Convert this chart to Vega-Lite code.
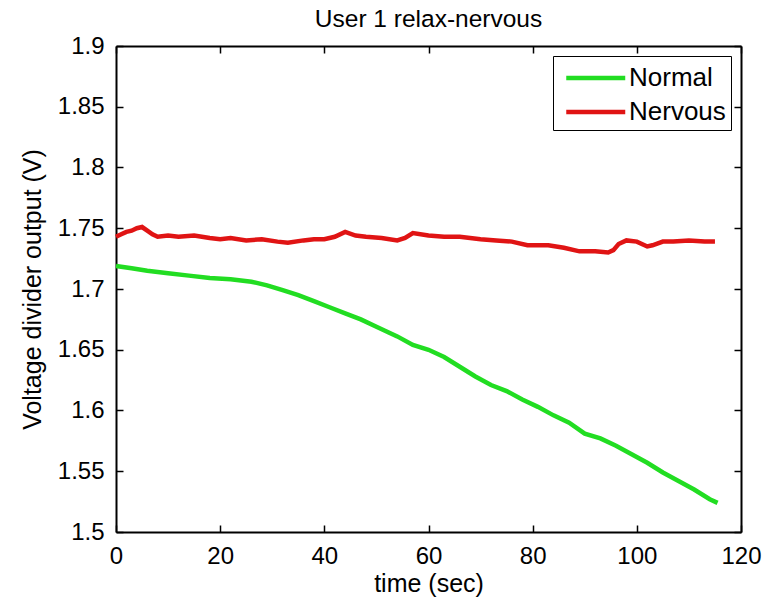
{
  "$schema": "https://vega.github.io/schema/vega-lite/v6.json",
  "width": 625,
  "height": 486,
  "autosize": {"type": "none"},
  "padding": {"left": 116, "top": 46, "right": 26, "bottom": 70},
  "background": "white",
  "config": {
    "font": "Liberation Sans",
    "view": {"stroke": null},
    "axis": {"grid": false, "domainColor": "black", "domainWidth": 2, "tickColor": "black", "tickWidth": 1.5, "labelColor": "black", "titleColor": "black", "labelFontSize": 24, "titleFontSize": 25, "titleFontWeight": "normal"}
  },
  "title": {"text": "User 1 relax-nervous", "fontSize": 24.5, "fontWeight": "normal", "color": "black", "offset": 2},
  "datasets": {
    "series": [
      {"t": 0, "v": 1.743, "s": "Nervous"}, {"t": 1, "v": 1.745, "s": "Nervous"}, {"t": 2, "v": 1.747, "s": "Nervous"}, {"t": 3, "v": 1.748, "s": "Nervous"}, {"t": 4, "v": 1.750, "s": "Nervous"}, {"t": 5, "v": 1.751, "s": "Nervous"}, {"t": 6, "v": 1.748, "s": "Nervous"}, {"t": 7, "v": 1.745, "s": "Nervous"}, {"t": 8, "v": 1.743, "s": "Nervous"}, {"t": 10, "v": 1.744, "s": "Nervous"}, {"t": 12, "v": 1.743, "s": "Nervous"}, {"t": 15, "v": 1.744, "s": "Nervous"}, {"t": 18, "v": 1.742, "s": "Nervous"}, {"t": 20, "v": 1.741, "s": "Nervous"}, {"t": 22, "v": 1.742, "s": "Nervous"}, {"t": 25, "v": 1.740, "s": "Nervous"}, {"t": 28, "v": 1.741, "s": "Nervous"}, {"t": 31, "v": 1.739, "s": "Nervous"}, {"t": 33, "v": 1.738, "s": "Nervous"}, {"t": 36, "v": 1.740, "s": "Nervous"}, {"t": 38, "v": 1.741, "s": "Nervous"}, {"t": 40, "v": 1.741, "s": "Nervous"}, {"t": 42, "v": 1.743, "s": "Nervous"}, {"t": 44, "v": 1.747, "s": "Nervous"}, {"t": 46, "v": 1.744, "s": "Nervous"}, {"t": 48, "v": 1.743, "s": "Nervous"}, {"t": 51, "v": 1.742, "s": "Nervous"}, {"t": 54, "v": 1.740, "s": "Nervous"}, {"t": 55.5, "v": 1.742, "s": "Nervous"}, {"t": 57, "v": 1.746, "s": "Nervous"}, {"t": 60, "v": 1.744, "s": "Nervous"}, {"t": 63, "v": 1.743, "s": "Nervous"}, {"t": 66, "v": 1.743, "s": "Nervous"}, {"t": 70, "v": 1.741, "s": "Nervous"}, {"t": 73, "v": 1.740, "s": "Nervous"}, {"t": 76, "v": 1.739, "s": "Nervous"}, {"t": 79, "v": 1.736, "s": "Nervous"}, {"t": 83, "v": 1.736, "s": "Nervous"}, {"t": 86, "v": 1.734, "s": "Nervous"}, {"t": 89, "v": 1.731, "s": "Nervous"}, {"t": 92, "v": 1.731, "s": "Nervous"}, {"t": 94.5, "v": 1.730, "s": "Nervous"}, {"t": 95.5, "v": 1.732, "s": "Nervous"}, {"t": 96.5, "v": 1.737, "s": "Nervous"}, {"t": 98, "v": 1.740, "s": "Nervous"}, {"t": 100, "v": 1.739, "s": "Nervous"}, {"t": 102, "v": 1.735, "s": "Nervous"}, {"t": 103, "v": 1.736, "s": "Nervous"}, {"t": 105, "v": 1.739, "s": "Nervous"}, {"t": 107, "v": 1.739, "s": "Nervous"}, {"t": 110, "v": 1.740, "s": "Nervous"}, {"t": 113, "v": 1.739, "s": "Nervous"}, {"t": 115, "v": 1.739, "s": "Nervous"},
      {"t": 0, "v": 1.719, "s": "Normal"}, {"t": 3, "v": 1.717, "s": "Normal"}, {"t": 6, "v": 1.715, "s": "Normal"}, {"t": 10, "v": 1.713, "s": "Normal"}, {"t": 14, "v": 1.711, "s": "Normal"}, {"t": 18, "v": 1.709, "s": "Normal"}, {"t": 22, "v": 1.708, "s": "Normal"}, {"t": 26, "v": 1.706, "s": "Normal"}, {"t": 29, "v": 1.703, "s": "Normal"}, {"t": 32, "v": 1.699, "s": "Normal"}, {"t": 35, "v": 1.695, "s": "Normal"}, {"t": 38, "v": 1.690, "s": "Normal"}, {"t": 41, "v": 1.685, "s": "Normal"}, {"t": 44, "v": 1.680, "s": "Normal"}, {"t": 47, "v": 1.675, "s": "Normal"}, {"t": 50, "v": 1.669, "s": "Normal"}, {"t": 54, "v": 1.661, "s": "Normal"}, {"t": 57, "v": 1.654, "s": "Normal"}, {"t": 60, "v": 1.650, "s": "Normal"}, {"t": 63, "v": 1.644, "s": "Normal"}, {"t": 66, "v": 1.636, "s": "Normal"}, {"t": 69, "v": 1.628, "s": "Normal"}, {"t": 72, "v": 1.621, "s": "Normal"}, {"t": 75, "v": 1.616, "s": "Normal"}, {"t": 78, "v": 1.609, "s": "Normal"}, {"t": 81, "v": 1.603, "s": "Normal"}, {"t": 84, "v": 1.596, "s": "Normal"}, {"t": 87, "v": 1.590, "s": "Normal"}, {"t": 90, "v": 1.581, "s": "Normal"}, {"t": 93, "v": 1.577, "s": "Normal"}, {"t": 96, "v": 1.571, "s": "Normal"}, {"t": 99, "v": 1.564, "s": "Normal"}, {"t": 102, "v": 1.557, "s": "Normal"}, {"t": 105, "v": 1.549, "s": "Normal"}, {"t": 108, "v": 1.542, "s": "Normal"}, {"t": 111, "v": 1.535, "s": "Normal"}, {"t": 114, "v": 1.527, "s": "Normal"}, {"t": 115.5, "v": 1.524, "s": "Normal"}
    ]
  },
  "data": {"name": "series"},
  "layer": [
    {
      "mark": {"type": "line", "strokeWidth": 4.5, "interpolate": "linear"},
      "encoding": {
        "x": {"field": "t", "type": "quantitative", "scale": {"domain": [0, 120], "nice": false, "zero": false},
          "axis": {"orient": "bottom", "values": [0, 20, 40, 60, 80, 100, 120], "title": "time (sec)", "tickSize": -7, "labelPadding": 19, "titlePadding": 3, "labelFlush": false}},
        "y": {"field": "v", "type": "quantitative", "scale": {"domain": [1.5, 1.9], "nice": false, "zero": false},
          "axis": {"orient": "left", "values": [1.5, 1.55, 1.6, 1.65, 1.7, 1.75, 1.8, 1.85, 1.9], "format": "~g", "title": "Voltage divider output (V)", "tickSize": -7, "labelPadding": 19, "titlePadding": 12}},
        "color": {"field": "s", "type": "nominal", "sort": ["Normal", "Nervous"],
          "scale": {"domain": ["Normal", "Nervous"], "range": ["#22dd22", "#e01414"]},
          "legend": {"title": null, "orient": "top-right", "offset": 10, "symbolType": "M-1,0H3", "symbolSize": 870, "symbolStrokeWidth": 4.5, "symbolFillColor": "transparent", "labelFontSize": 26, "labelColor": "black", "labelOffset": 31, "rowPadding": 4, "padding": 5, "symbolOffset": 6, "strokeColor": "black", "fillColor": "white"}}
      }
    },
    {
      "mark": {"type": "line", "opacity": 0},
      "encoding": {
        "x": {"field": "t", "type": "quantitative", "axis": {"orient": "top", "values": [0, 20, 40, 60, 80, 100, 120], "labels": false, "title": null, "tickSize": -7}},
        "y": {"field": "v", "type": "quantitative", "axis": {"orient": "right", "values": [1.5, 1.55, 1.6, 1.65, 1.7, 1.75, 1.8, 1.85, 1.9], "labels": false, "title": null, "tickSize": -7}},
        "detail": {"field": "s"}
      }
    }
  ],
  "resolve": {"axis": {"x": "independent", "y": "independent"}}
}
